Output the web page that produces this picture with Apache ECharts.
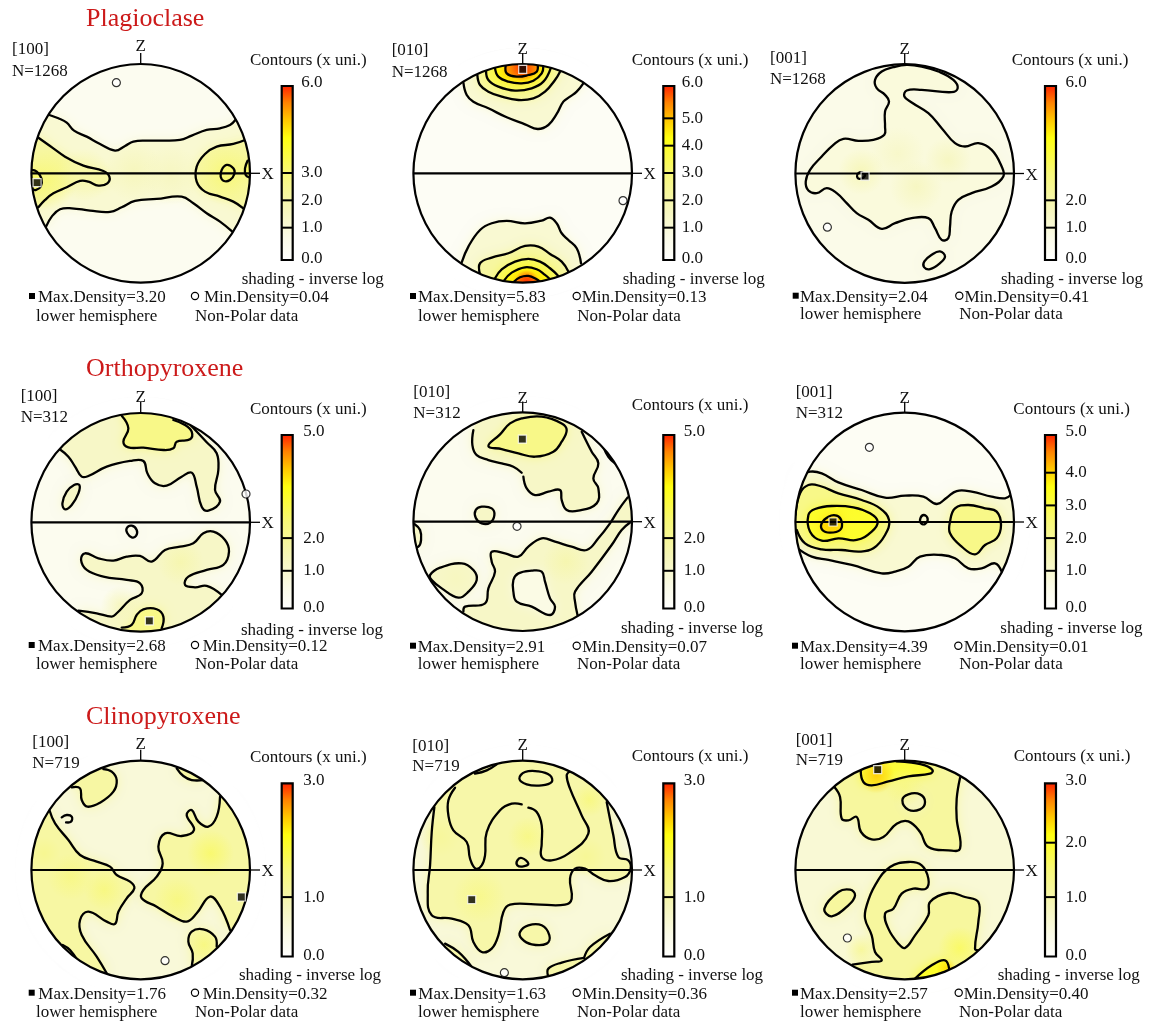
<!DOCTYPE html>
<html><head><meta charset="utf-8">
<style>html,body{margin:0;padding:0;background:#fff}#c{width:1153px;height:1022px}</style>
<script src="https://cdn.jsdelivr.net/npm/echarts@6/dist/echarts.min.js"></script>
</head><body><div id="c"></div>
<script>
// Contours are read in projection units: disc radius = 328, x right, y up.
const R = 328;
const rev = a => a.slice().reverse();
const close = a => a.concat([a[0]]);

// Plagioclase [100]
const pl100a=[[-274,175],[-247,165],[-222,152],[-200,128],[-162,110],[-122,88],[-77,68],[-47,82],[-22,95],[18,98],[58,98],[118,100],[153,113],[198,130],[238,135],[268,145],[284,160]];
const pl100b=[[-284,-160],[-267,-130],[-242,-108],[-207,-105],[-152,-112],[-92,-116],[-57,-102],[-17,-83],[48,-77],[123,-70],[158,-90],[198,-120],[238,-145],[275,-175]];
const pl100c=[[-309,108],[-272,82],[-227,50],[-172,23],[-112,7],[-94,-10],[-100,-30],[-127,-37],[-157,-25],[-182,-23],[-222,-42],[-262,-60],[-287,-80],[-307,-102]];
const pl100d=[[-328,10],[-312,5],[-298,-15],[-300,-40],[-314,-50],[-325,-48]];
const pl100e=[[313,100],[278,88],[228,80],[193,58],[168,20],[168,-25],[193,-55],[238,-70],[278,-85],[308,-105]];
const pl100f=close([[258,25],[278,15],[281,-2],[268,-20],[250,-23],[240,-10],[243,10]]);
const pl100g=[[321,38],[313,15],[315,-5],[326,-12]];
// Plagioclase [010]
const pl010t1=[[-178,272],[-168,235],[-148,215],[-103,195],[-48,168],[7,147],[45,133],[77,145],[102,178],[122,215],[142,230],[162,245],[182,270]];
const pl010t2=[[-136,294],[-128,265],[-103,245],[-63,230],[-13,220],[32,225],[67,245],[97,280],[112,305]];
const pl010t3=[[-110,308],[-103,280],[-73,260],[-23,248],[27,255],[62,275],[84,315]];
const pl010t4=[[-83,315],[-73,290],[-43,275],[-3,270],[32,278],[57,300],[62,322]];
const pl010t5=[[-51,324],[-48,300],[-18,290],[17,295],[42,305],[45,325]];
const pl010b1=[[-183,-267],[-163,-220],[-128,-170],[-93,-150],[-48,-143],[7,-150],[57,-142],[82,-133],[102,-150],[117,-180],[137,-200],[162,-225],[175,-270]];
const pl010b2=[[-128,-303],[-128,-270],[-93,-253],[-43,-240],[7,-218],[47,-220],[82,-242],[117,-265],[137,-295]];
const pl010b3=[[-83,-315],[-63,-288],[-23,-265],[17,-257],[52,-265],[82,-285],[107,-308]];
const pl010b4=[[-56,-322],[-33,-298],[7,-282],[42,-288],[67,-305],[82,-318]];
const pl010b5=[[-28,-327],[-8,-312],[17,-308],[42,-318],[52,-326]];
// Plagioclase [001]
const pl001a=[[6,326],[-34,319],[-69,306],[-89,281],[-84,256],[-59,236],[-47,216],[-59,186],[-59,141],[-61,116],[-94,101],[-139,98],[-184,104],[-214,86],[-249,51],[-284,11],[-297,-24],[-289,-51],[-264,-59],[-234,-44],[-204,-59],[-174,-89],[-144,-119],[-109,-139],[-69,-166],[-29,-149],[21,-134],[71,-134],[91,-164],[111,-199],[131,-194],[136,-159],[141,-114],[161,-79],[201,-59],[261,-39],[296,-9],[291,21],[261,71],[221,91],[181,81],[151,91],[111,136],[71,181],[21,213],[-1,231],[6,249],[51,251],[141,244],[159,256],[146,281],[101,306],[51,321],[6,326]];
const pl001b=close([[106,-234],[121,-249],[106,-269],[76,-287],[58,-281],[59,-264],[81,-244]]);
const pl001c=close([[-139,1],[-127,3],[-119,-6],[-134,-16],[-143,-9]]);
// Orthopyroxene [100]
const op100a=[[-244,220],[-217,197],[-197,167],[-177,137],[-157,139],[-102,167],[-32,184],[8,184],[20,147],[43,117],[78,110],[123,137],[153,149],[168,107],[183,47],[203,35],[238,62],[223,97],[233,157],[228,207],[198,240],[150,291]];
const op100b=[[-57,320],[-37,282],[-52,242],[-37,225],[8,224],[68,217],[98,222],[108,242],[148,249],[153,272],[133,292],[98,307]];
const op100c=close([[-184,112],[-187,87],[-207,52],[-227,39],[-235,57],[-222,92],[-200,112]]);
const op100d=close([[-27,-10],[-12,-23],[-14,-41],[-27,-45],[-40,-33],[-42,-18]]);
const op100e=[[243,-218],[198,-191],[163,-195],[133,-188],[143,-163],[198,-143],[248,-128],[265,-88],[253,-53],[218,-28],[188,-33],[158,-63],[118,-73],[73,-83],[33,-118],[-2,-101],[-42,-103],[-82,-115],[-127,-108],[-167,-93],[-179,-113],[-162,-143],[-112,-163],[-42,-173],[-2,-183],[3,-213],[-32,-233],[-72,-273],[-87,-283],[-132,-273],[-187,-265]];
const op100f=[[-57,-316],[-27,-308],[-12,-278],[8,-261],[48,-261],[68,-283],[63,-318]];
// Orthopyroxene [010]
const op010a=[[-148,275],[-151,230],[-138,200],[-103,185],[-63,175],[-28,165],[-3,147]];
const op010b=[[2,135],[12,100],[37,80],[77,90],[112,95],[117,65],[132,35],[167,33],[222,55],[227,100],[212,130],[227,175],[207,210],[177,270]];
const op010c=close([[-103,227],[-68,262],[-38,295],[-3,310],[57,315],[117,295],[132,275],[117,240],[92,210],[37,195],[-13,205],[-63,218]]);
const op010d=[[242,225],[257,195],[277,175]];
const op010e=close([[-123,45],[-93,40],[-85,20],[-98,-3],[-123,-5],[-141,12],[-141,35]]);
const op010f=[[-325,-7],[-308,-25],[-305,-55],[-313,-75],[-325,-73]];
const op010g=[[315,73],[287,35],[262,-5],[227,-50],[192,-85],[147,-75],[97,-60],[57,-50],[17,-75],[-13,-105],[-53,-95],[-93,-90],[-93,-120],[-83,-150],[-103,-200],[-113,-245],[-173,-255],[-178,-270]];
const op010h=[[325,0],[297,-25],[267,-70],[207,-150],[157,-210],[157,-240],[165,-282]];
const op010i=close([[-278,-160],[-248,-138],[-183,-125],[-148,-145],[-138,-175],[-163,-210],[-193,-228],[-243,-200],[-273,-175]]);
const op010j=close([[-28,-175],[-13,-155],[27,-147],[57,-150],[67,-180],[82,-230],[97,-255],[82,-280],[27,-255],[-18,-240],[-28,-210]]);
// Orthopyroxene [001]
const op001a=[[-314,136],[-284,151],[-249,146],[-199,119],[-129,96],[-59,73],[1,79],[56,76],[96,54],[126,73],[156,93],[201,91],[261,76],[301,71],[318,81]];
const op001b=[[-321,-79],[-279,-104],[-229,-114],[-159,-129],[-69,-154],[-29,-149],[11,-134],[46,-104],[111,-99],[151,-109],[191,-139],[231,-139],[271,-124],[291,-149]];
const op001c=[[-328,21],[-314,86],[-289,111],[-254,108],[-199,86],[-129,66],[-74,41],[-47,6],[-59,-39],[-94,-79],[-134,-89],[-189,-84],[-249,-82],[-299,-64],[-324,-24]];
const op001d=close([[-289,21],[-269,39],[-219,48],[-154,44],[-104,26],[-81,1],[-99,-29],[-144,-54],[-199,-49],[-249,-56],[-284,-29]]);
const op001e=close([[-249,-4],[-229,16],[-204,19],[-189,1],[-194,-24],[-224,-32],[-247,-24]]);
const op001f=close([[58,21],[69,9],[61,-6],[49,-4],[47,11]]);
const op001g=close([[151,41],[191,51],[241,41],[276,31],[289,-9],[276,-49],[241,-69],[211,-97],[171,-74],[136,-34],[136,1]]);
// Clinopyroxene [100]
const cp100a=[[-207,248],[-182,245],[-177,210],[-160,190],[-122,202],[-82,235],[-72,270],[-87,295],[-112,303]];
const cp100b=[[108,305],[128,282],[153,270],[188,270]];
const cp100c=[[-237,158],[-222,165],[-207,160],[-209,145],[-224,143]];
const cp100d=[[-274,180],[-257,140],[-217,90],[-182,45],[-132,25],[-92,10],[-72,-15],[-32,-35],[-19,-55],[-42,-85],[-67,-125],[-77,-162],[-102,-155],[-157,-125],[-182,-150],[-177,-195],[-132,-260],[-102,-310]];
const cp100e=[[238,220],[228,160],[203,130],[173,145],[153,180],[138,165],[160,120],[123,102],[73,110],[53,70],[66,20],[48,-20],[8,-60],[3,-85],[48,-110],[98,-140],[138,-155],[168,-130],[208,-80],[238,-110],[268,-180]];
const cp100f=[[153,-290],[156,-250],[143,-215],[153,-185],[188,-178],[223,-200],[228,-230]];
const cp100g=[[-234,-225],[-212,-240],[-187,-275]];
// Clinopyroxene [010]
const cp010a=[[-143,289],[-108,299],[-78,317]];
const cp010b=close([[-10,274],[7,294],[47,296],[82,284],[87,264],[57,254],[12,257]]);
const cp010c1=[[-203,247],[-223,209],[-223,164],[-208,119],[-168,84],[-158,34],[-141,4],[-123,14],[-113,44],[-108,114],[-68,179],[-33,199],[-3,197]];
const cp010c2=[[17,187],[42,174],[57,134],[57,79],[57,39],[87,29],[137,49],[197,109],[177,164],[142,244],[132,284],[142,296]];
const cp010d=[[-265,189],[-273,114],[-278,14],[-285,-66],[-273,-136],[-213,-146],[-163,-166],[-148,-216],[-123,-246],[-93,-236],[-73,-196],[-58,-126],[-38,-104],[37,-103],[127,-104],[147,-86],[142,-26],[157,4],[187,4],[217,-16],[257,-33],[307,-21],[324,4],[317,29],[287,39],[272,104],[252,204]];
const cp010e=close([[-16,29],[-3,36],[17,19],[2,11],[-16,14]]);
const cp010f=close([[-8,-186],[17,-166],[57,-166],[80,-196],[72,-221],[27,-223],[-3,-206]]);
const cp010g=[[-233,-221],[-193,-246],[-153,-291]];
const cp010h=[[77,-321],[77,-296],[117,-278],[184,-264]];
const cp010i=[[184,-264],[202,-231],[262,-191]];
// Clinopyroxene [001]
const cp001a=[[-132,299],[-124,264],[-99,254],[-49,266],[11,281],[76,289],[84,299],[61,314],[21,322],[-24,326]];
const cp001b=[[-211,249],[-194,219],[-189,154],[-169,149],[-144,159],[-131,114],[-99,92],[-64,99],[-24,139],[11,146],[46,114],[71,69],[131,59],[166,64],[156,154],[156,214],[166,276]];
const cp001c=close([[-7,209],[11,227],[46,227],[61,204],[46,182],[11,181]]);
const cp001d=[[-157,-284],[-99,-276],[-69,-271],[-89,-246],[-99,-196],[-119,-146],[-114,-106],[-89,-46],[-44,9],[11,24],[51,14],[71,-26],[64,-56],[26,-56],[-9,-71],[-34,-116],[-59,-131],[-49,-176],[-19,-221],[1,-234],[31,-196],[71,-136],[76,-96],[131,-69],[181,-81],[221,-96],[221,-156],[211,-236],[222,-241]];
const cp001e=close([[-241,-116],[-199,-66],[-164,-59],[-149,-76],[-169,-106],[-219,-139]]);
const cp001f=[[31,-326],[81,-286],[121,-271],[134,-299]];

// Panels: contour lines, filled regions [density level, line parts...], soft hot spots [x,y,radius,density],
// density marks, colour-scale top and labelled values, caption values.
const panels=[
 {name:'[100]',n:'N=1268',top:6,bar:[1,2,3],labels:[0,1,2,3,6],max:3.20,min:0.04,maxAt:[-311,-28],minAt:[-73,272],base:.5,
  lines:[pl100a,pl100b,pl100c,pl100d,pl100e,pl100f,pl100g],
  fills:[[1,pl100a,rev(pl100b)],[2,pl100c],[2,pl100e],[3,pl100d],[3,pl100f],[3,pl100g]],
  glows:[[-280,-20,90,3.0],[-170,-5,80,2.1],[255,-5,90,2.9],[-20,5,90,1.8],[90,-5,90,1.7]]},
 {name:'[010]',n:'N=1268',top:6,bar:[1,2,3,4,5],labels:[0,1,2,3,4,5,6],max:5.83,min:0.13,maxAt:[0,312],minAt:[301,-82],base:.35,
  lines:[pl010t1,pl010t2,pl010t3,pl010t4,pl010t5,pl010b1,pl010b2,pl010b3,pl010b4,pl010b5],
  fills:[[1,pl010t1],[2,pl010t2],[3,pl010t3],[4,pl010t4],[5,pl010t5],[1,pl010b1],[2,pl010b2],[3,pl010b3],[4,pl010b4],[5,pl010b5]],
  glows:[[0,318,42,6],[12,-326,36,6]]},
 {name:'[001]',n:'N=1268',top:6,bar:[1,2],labels:[0,1,2,6],max:2.04,min:0.41,maxAt:[-119,-8],minAt:[-232,-161],base:.75,
  lines:[pl001a,pl001b,pl001c],
  fills:[[.8,pl001a],[.8,pl001b]],
  glows:[[-130,5,70,1.9],[130,40,70,1.7],[35,-40,80,1.7],[-20,60,80,1.5]]},
 {name:'[100]',n:'N=312',top:5,bar:[1,2],labels:[0,1,2,5],max:2.68,min:0.12,maxAt:[26,-296],minAt:[316,85],base:.45,
  lines:[op100a,op100b,op100c,op100d,op100e,op100f],
  fills:[[1,op100a],[1,op100e],[1,op100c],[2,op100b],[2,op100f],[.45,op100d]],
  glows:[[120,-120,70,1.7],[-60,-250,60,1.5]]},
 {name:'[010]',n:'N=312',top:5,bar:[1,2],labels:[0,1,2,5],max:2.91,min:0.07,maxAt:[-1,248],minAt:[-17,-14],base:.45,
  lines:[op010a,op010b,op010c,op010d,op010e,op010f,op010g,op010h,op010i,op010j],
  fills:[[1,op010a,op010b],[1,op010g,rev(op010h)],[1,op010i],[1,op010e],[1,op010f],[2,op010c],[.45,op010j]],
  glows:[[130,-120,70,1.7],[-200,-170,50,1.4]]},
 {name:'[001]',n:'N=312',top:5,bar:[1,2,3,4],labels:[0,1,2,3,4,5],max:4.39,min:0.01,maxAt:[-215,0],minAt:[-106,224],base:.3,
  lines:[op001a,op001b,op001c,op001d,op001e,op001f,op001g],
  fills:[[.8,op001a,rev(op001b)],[2,op001c],[2,op001g],[3,op001d],[3.6,op001e],[.8,op001f]],
  glows:[[-150,-5,60,3.2]]},
 {name:'[100]',n:'N=719',top:3,bar:[1],labels:[0,1,3],max:1.76,min:0.32,maxAt:[302,-81],minAt:[73,-272],base:.55,
  lines:[cp100a,cp100b,cp100c,cp100d,cp100e,cp100f,cp100g],
  fills:[[.85,cp100d],[.85,cp100e],[.85,cp100a],[.85,cp100b],[.85,cp100f],[.85,cp100g]],
  glows:[[210,50,70,1.6],[-110,-60,60,1.45],[-210,-20,70,1.4],[190,-225,45,1.45],[110,-90,70,1.45],[-290,50,50,1.3]]},
 {name:'[010]',n:'N=719',top:3,bar:[1],labels:[0,1,3],max:1.63,min:0.36,maxAt:[-153,-89],minAt:[-55,-308],base:.55,
  lines:[cp010a,cp010b,cp010c1,cp010c2,cp010d,cp010e,cp010f,cp010g,cp010h,cp010i],
  fills:[[.8,cp010d],[.8,cp010a],[.8,cp010f],[.8,cp010g],[.8,cp010h,cp010i]],
  glows:[[15,100,60,1.4],[-130,-80,80,1.35],[200,210,50,1.45],[190,40,60,1.25],[-250,100,60,1.2]]},
 {name:'[001]',n:'N=719',top:3,bar:[1,2],labels:[0,1,2,3],max:2.57,min:0.40,maxAt:[-81,301],minAt:[-172,-204],base:.6,
  lines:[cp001a,cp001b,cp001c,cp001d,cp001e,cp001f],
  fills:[[.9,cp001b],[.9,cp001d],[.9,cp001e],[.6,cp001c],[1.6,cp001a],[1.7,cp001f]],
  glows:[[-85,285,55,2.4],[165,-235,65,1.65],[125,-295,30,2.3],[0,250,60,1.4],[-130,-240,50,1.25]]}
];

// Page layout, in window pixels (one row per panel).
const layout=[
 {cx:140.7,cy:173.3,hx:12,hy:[48,70],zy:45,cax:250,cay:59,bx:281.7,my:10,shx:241.7,shy:278,sx:32,ly:[296,315],lx:[38,36],cx2:195,tx2:[204,195]},
 {cx:522.7,cy:173.3,hx:391.7,hy:[49,70.7],zy:47.7,cax:631.7,cay:59,bx:663.3,my:9,shx:622.7,shy:278,sx:413,ly:[296,315],lx:[418,418],cx2:576.7,tx2:[581.7,577.3]},
 {cx:904.7,cy:173.5,hx:770,hy:[57.3,77.7],zy:48,cax:1011.7,cay:59,bx:1045,my:11,shx:1001,shy:278,sx:795.7,ly:[295.7,313],lx:[800,800],cx2:959.3,tx2:[964.5,959.3]},
 {cx:140.7,cy:522.3,hx:20.7,hy:[395,415.7],zy:396,cax:250,cay:408,bx:281.7,my:12,shx:241,shy:629,sx:31.7,ly:[645,663],lx:[38,36],cx2:195,tx2:[202.7,195]},
 {cx:522.7,cy:521.7,hx:413.3,hy:[390.7,411.7],zy:396.7,cax:631.7,cay:404,bx:663.3,my:11,shx:621,shy:627,sx:413,ly:[645.7,663],lx:[417.7,417.7],cx2:576.7,tx2:[582.3,577]},
 {cx:904.7,cy:522,hx:795.7,hy:[390.7,411.7],zy:396.7,cax:1013.3,cay:407.7,bx:1045,my:11,shx:1000.3,shy:627,sx:795,ly:[645.7,663],lx:[800,800],cx2:958.3,tx2:[963.7,959.3]},
 {cx:140.7,cy:870,hx:32.3,hy:[740.7,761.7],zy:743,cax:250,cay:755.7,bx:281.7,my:12,shx:239,shy:974,sx:31.7,ly:[992.7,1011],lx:[38.3,36],cx2:195,tx2:[202.7,195]},
 {cx:522.7,cy:870,hx:412.3,hy:[745.3,765.3],zy:743.7,cax:631.7,cay:755.3,bx:663.3,my:11,shx:621,shy:974.3,sx:413,ly:[992.7,1010.7],lx:[418.3,418],cx2:576.7,tx2:[582.3,577]},
 {cx:904.7,cy:870,hx:795.7,hy:[739.3,759.3],zy:743.7,cax:1013.7,cay:755.3,bx:1045,my:11,shx:997.7,shy:974.3,sx:795,ly:[992.7,1010.7],lx:[800,800],cx2:958.7,tx2:[963.7,959]}
];
const barRows=[[86,260],[435,608.5],[783.3,956.5]];
const sectionTitles=[['Plagioclase',18],['Orthopyroxene',368],['Clinopyroxene',716]];
const RPX=109.3, BARW=11, PAD=5, LABELUP=3, TEXTDY=1.6, SMOOTH=.42;

const stops=[[0,[255,255,255]],[.13,[251,251,232]],[.3,[246,246,185]],[.5,[248,248,120]],[.7,[255,255,16]],[.8,[255,200,0]],[.9,[255,130,0]],[1,[255,30,0]]];
function ramp(f){f=Math.max(0,Math.min(1,f));for(let i=1;i<stops.length;i++){if(f<=stops[i][0]){const a=stops[i-1],b=stops[i],t=(f-a[0])/(b[0]-a[0]);return a[1].map((v,k)=>Math.round(v+(b[1][k]-v)*t));}}return stops[stops.length-1][1];}
const rgba=(c,a)=>`rgba(${c[0]},${c[1]},${c[2]},${a})`;
const gradStops=stops.map(s=>({offset:s[0],color:rgba(s[1],1)}));

const isLoop=l=>l[0][0]===l[l.length-1][0]&&l[0][1]===l[l.length-1][1];
function near(p){return Math.hypot(p[0],p[1])>280;}
function arc(a,b){let t0=Math.atan2(a[1],a[0]),t1=Math.atan2(b[1],b[0]),d=t1-t0;while(d>Math.PI)d-=2*Math.PI;while(d<-Math.PI)d+=2*Math.PI;const out=[],N=Math.ceil(Math.abs(d)/.12);for(let i=1;i<N;i++){const t=t0+d*i/N;out.push([(R+8)*Math.cos(t),(R+8)*Math.sin(t)]);}return out;}
function ring(parts){
 if(parts.length===1&&isLoop(parts[0]))return parts[0].slice(0,-1);
 const pts=[];parts.forEach((p,i)=>{pts.push(...p);const a=p[p.length-1],b=parts[(i+1)%parts.length][0];if(near(a)&&near(b)&&Math.hypot(a[0]-b[0],a[1]-b[1])>1)pts.push(...arc(a,b));});return pts;}

const grid=[],xAxis=[],yAxis=[],series=[],graphic=[];
const FONT='"Liberation Serif","Times New Roman",serif';
const txt=(text,x,y,size,fill,align)=>graphic.push({type:'text',z:100,x,y:y+TEXTDY,silent:true,style:{text,fill:fill||'#111',font:`${size||17}px ${FONT}`,textAlign:align||'left',textVerticalAlign:'middle',align:align||'left',verticalAlign:'middle'}});

panels.forEach((p,i)=>{
 const L=layout[i], ax=grid.length;
 grid.push({left:L.cx-RPX,top:L.cy-RPX,width:2*RPX,height:2*RPX});
 xAxis.push({type:'value',gridIndex:ax,min:-R,max:R,show:false});
 yAxis.push({type:'value',gridIndex:ax,min:-R,max:R,show:false});
 const items=[{k:'disc'}].concat(p.fills.map(f=>({k:'fill',f}))).concat(p.glows.map(g=>({k:'glow',g})));
 series.push({type:'custom',xAxisIndex:ax,yAxisIndex:ax,z:1,silent:true,clip:false,animation:false,data:items.map((_,j)=>[j,0]),
  renderItem(params,api){
   const it=items[api.value(0)];
   const ctr=api.coord([0,0]),pxr=api.size([R,0])[0];
   if(it.k==='disc')return{type:'circle',shape:{cx:ctr[0],cy:ctr[1],r:pxr},style:{fill:rgba(ramp(p.base/p.top),1)}};
   if(it.k==='fill'){
    const c=rgba(ramp((it.f[0]+.25)/p.top),1);
    return{type:'polygon',shape:{points:ring(it.f.slice(1)).map(q=>api.coord(q)),smooth:SMOOTH},style:{fill:c,shadowBlur:12,shadowColor:c}};
   }
   const g=it.g,o=api.coord([g[0],g[1]]),r=api.size([g[2],0])[0],c=ramp(g[3]/p.top);
   return{type:'circle',shape:{cx:o[0],cy:o[1],r},style:{fill:{type:'radial',x:.5,y:.5,r:.5,colorStops:[{offset:0,color:rgba(c,.85)},{offset:.55,color:rgba(c,.4)},{offset:1,color:rgba(c,0)}]}}};
  }});
 series.push({type:'custom',name:'contours',xAxisIndex:ax,yAxisIndex:ax,z:2,silent:true,clip:false,animation:false,data:p.lines.map((_,j)=>[j,0]),
  renderItem(params,api){
   const l=p.lines[api.value(0)],loop=isLoop(l);
   const pts=(loop?l.slice(0,-1):l).map(q=>api.coord(q));
   return{type:loop?'polygon':'polyline',shape:{points:pts,smooth:SMOOTH},style:{fill:'none',stroke:'#000',lineWidth:2.3,lineCap:'round',lineJoin:'round'}};
  }});
 series.push({type:'custom',xAxisIndex:ax,yAxisIndex:ax,z:3,silent:true,clip:false,animation:false,data:[[0,0]],
  renderItem(params,api){
   const c=api.coord([0,0]),r=api.size([R,0])[0];
   const line=(a,b,w)=>({type:'line',shape:{x1:a[0],y1:a[1],x2:b[0],y2:b[1]},style:{stroke:'#000',lineWidth:w,fill:null}});
   return{type:'group',children:[
    {type:'circle',shape:{cx:c[0],cy:c[1],r:r+8},style:{fill:'none',stroke:'#fff',lineWidth:16}},
    {type:'circle',shape:{cx:c[0],cy:c[1],r},style:{fill:'none',stroke:'#000',lineWidth:2.2}},
    line([c[0]-r,c[1]],[c[0]+r,c[1]],2.2),
    line([c[0],c[1]-r],[c[0],c[1]-r-11],1.3),
    line([c[0]+r,c[1]],[c[0]+r+10,c[1]],1.3)
   ]};
  }});
 series.push({type:'scatter',xAxisIndex:ax,yAxisIndex:ax,z:5,silent:true,clip:false,animation:false,symbol:'rect',symbolSize:8,data:[p.maxAt],itemStyle:{color:'#000',borderColor:'#fff',borderWidth:1.2}});
 series.push({type:'scatter',xAxisIndex:ax,yAxisIndex:ax,z:5,silent:true,clip:false,animation:false,symbol:'circle',symbolSize:8,data:[p.minAt],itemStyle:{color:'#fff',borderColor:'#000',borderWidth:1.2}});

 // colour scale
 const row=barRows[Math.floor(i/3)],yt=row[0],yb=row[1],unit=(yb-yt-2*PAD)/p.top;
 const lo=-PAD/unit,hi=p.top+PAD/unit,labelHi=hi+LABELUP/unit,axMax=hi+(LABELUP+8)/unit;
 const bi=grid.length;
 grid.push({left:L.bx,width:BARW,top:yt-(LABELUP+8),height:yb-yt+LABELUP+8});
 xAxis.push({type:'value',gridIndex:bi,min:0,max:1,show:false});
 yAxis.push({type:'value',gridIndex:bi,min:lo,max:axMax,position:'right',axisLine:{show:false},axisTick:{show:false},splitLine:{show:false},
  axisLabel:{customValues:p.labels.map(v=>v===0?lo+1/unit:(v===p.top?labelHi:v)),margin:L.my-1.5,color:'#111',fontFamily:FONT,fontSize:17,hideOverlap:false,showMinLabel:true,showMaxLabel:true,padding:[2,0,0,0],
   formatter:v=>(v<0.2?0:(v>p.top?p.top:v)).toFixed(1)}});
 const barItems=[{k:'rect'}].concat(p.bar.map(v=>({k:'tick',v})));
 series.push({type:'custom',xAxisIndex:bi,yAxisIndex:bi,z:3,silent:true,clip:false,animation:false,data:barItems.map((_,j)=>[j,0]),
  renderItem(params,api){
   const it=barItems[api.value(0)];
   if(it.k==='rect'){const a=api.coord([0,hi]),b=api.coord([1,lo]);
    return{type:'rect',shape:{x:a[0],y:a[1],width:b[0]-a[0],height:b[1]-a[1]},style:{fill:{type:'linear',x:0,y:1,x2:0,y2:0,colorStops:gradStops},stroke:'#000',lineWidth:2.2}};}
   const a=api.coord([0,it.v]),b=api.coord([1,it.v]);
   return{type:'line',shape:{x1:a[0],y1:a[1],x2:b[0],y2:b[1]},style:{stroke:'#000',lineWidth:2,fill:null}};
  }});

 // text
 txt(p.name,L.hx,L.hy[0]);txt(p.n,L.hx,L.hy[1]);
 txt('Z',L.cx,L.zy,17,'#111','center');
 txt('X',L.cx+RPX+11.5,L.cy,17);
 txt('Contours (x uni.)',L.cax,L.cay);
 txt('shading - inverse log',L.shx,L.shy);
 graphic.push({type:'rect',z:100,silent:true,shape:{x:L.sx-3,y:L.ly[0]-3,width:6,height:6},style:{fill:'#000'}});
 txt('Max.Density='+p.max.toFixed(2),L.lx[0],L.ly[0]);
 txt('lower hemisphere',L.lx[1],L.ly[1]);
 graphic.push({type:'circle',z:100,silent:true,shape:{cx:L.cx2,cy:L.ly[0],r:3.6},style:{fill:'#fff',stroke:'#000',lineWidth:1.2}});
 txt('Min.Density='+p.min.toFixed(2),L.tx2[0],L.ly[0]);
 txt('Non-Polar data',L.tx2[1],L.ly[1]);
});
sectionTitles.forEach(t=>txt(t[0],86,t[1],26,'#cc1a1a'));

const chart=echarts.init(document.getElementById('c'),null,{renderer:'canvas'});
chart.setOption({animation:false,backgroundColor:'#fff',grid,xAxis,yAxis,series,graphic:{elements:graphic}});
</script></body></html>
